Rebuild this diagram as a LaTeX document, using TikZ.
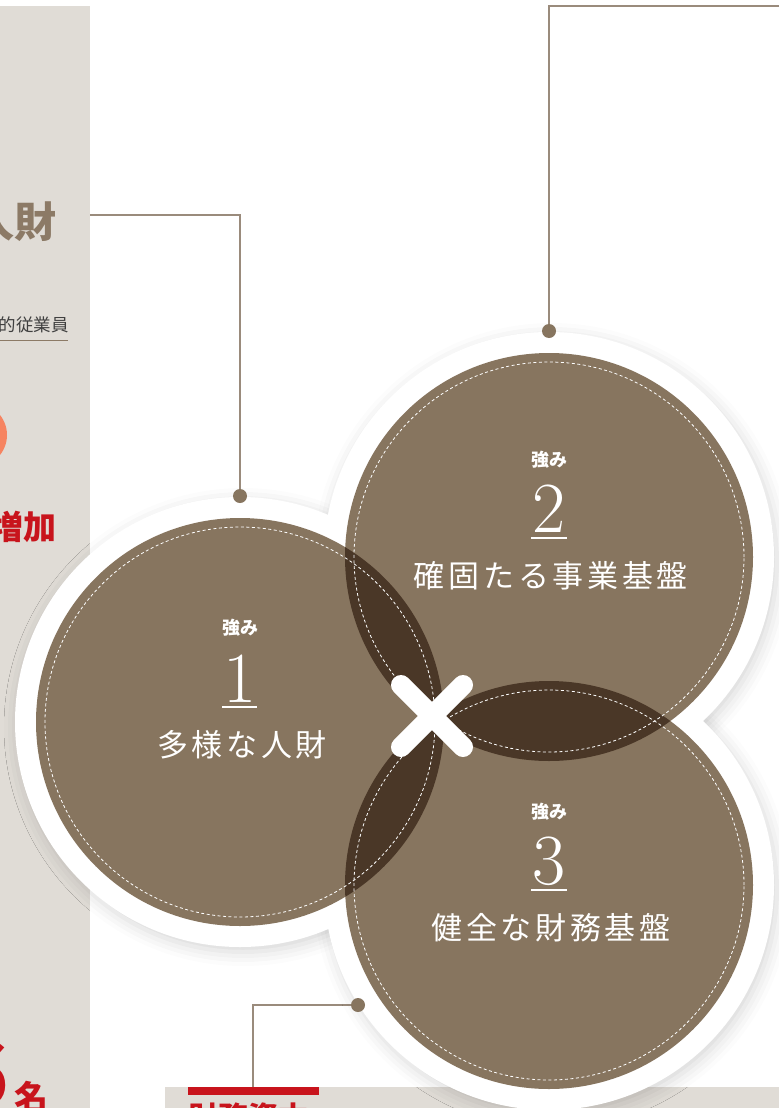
\documentclass[tikz,border=0pt]{standalone}
\usepackage{fontspec}
\usetikzlibrary{shadows.blur}
\newfontfamily\jp{Noto Sans CJK JP}
\newfontfamily\jpsp[LetterSpace=12]{Noto Sans CJK JP}
\definecolor{panelgray}{HTML}{E0DCD6}
\definecolor{brownc}{HTML}{87755F}
\definecolor{darkc}{HTML}{4A3727}
\definecolor{connc}{HTML}{9A8B7C}
\definecolor{redc}{HTML}{C8141C}
\definecolor{orangec}{HTML}{F68461}
\definecolor{headc}{HTML}{8C7A66}
\tikzset{
  conn/.style={connc, line width=1.3pt},
  dotc/.style={fill=brownc, draw=none},
  halo/.style={fill=white},
  disc/.style={fill=brownc},
  lens/.style={fill=darkc},
  ring/.style={white, line width=0.8pt, dash pattern=on 3pt off 2.5pt},
  tsmall/.style={text=white, font=\jp\bfseries\fontsize{18}{18}\selectfont, inner sep=0pt},
  tnum/.style={text=white, font=\fontsize{72}{72}\selectfont, inner sep=0pt},
  tname/.style={text=white, font=\jpsp\fontsize{31}{31}\selectfont, inner sep=0pt},
  shad/.style={blur shadow={shadow blur radius=14pt, shadow xshift=3pt, shadow yshift=-5pt, shadow opacity=16}}
}
\begin{document}
\begin{tikzpicture}[x=1pt,y=-1pt]
\useasboundingbox (0,0) rectangle (779,1108);
\begin{scope}
\clip (0,0) rectangle (779,1108);
% left panel
\fill[panelgray] (0,6) rectangle (90,1108);
\node[anchor=east, text=headc, font=\jp\bfseries\fontsize{42}{42}\selectfont, inner sep=0pt] (hd) at (57,222) {人財};
\node[anchor=east, text=black!75, font=\jp\fontsize{17.5}{17.5}\selectfont, inner sep=0pt] (emp) at (69,325) {的従業員};
\draw[headc, line width=1pt] (0,340) -- (68,340);
\fill[orangec] (-25,435) circle[radius=32pt];
\node[anchor=east, text=redc, font=\jp\bfseries\fontsize{33}{33}\selectfont, inner sep=0pt] (inc) at (57,527) {増加};
\node[anchor=north east, text=redc, font=\jp\bfseries\fontsize{90}{90}\selectfont, inner sep=0pt] (six) at (10,1040) {6};
\node[anchor=north west, text=redc, font=\jp\bfseries\fontsize{34}{34}\selectfont, inner sep=0pt] (mei) at (14,1081) {名};
% bottom panel
\fill[panelgray] (165,1087) rectangle (779,1108);
\fill[redc] (188,1087) rectangle (319,1095);
\node[anchor=north west, text=redc, font=\jp\bfseries\fontsize{30}{30}\selectfont, inner sep=0pt] (cap) at (188,1103) {財務資本};
% coordinates
\coordinate (c1) at (240,722);
\coordinate (c2) at (549,557);
\coordinate (c3) at (549,885);
\coordinate (d1) at (240,496);
\coordinate (d2) at (549,331);
\coordinate (d3) at (358,1005);
\coordinate (p1) at (90,215);
\coordinate (p2) at (779,6);
\coordinate (p3) at (253,1087);
% connectors
\draw[conn] (p1) -| (d1);
\draw[conn] (p2) -| (d2);
\draw[conn] (d3) -| (p3);
% shadows and halos
\path[shad] (c1) circle[radius=225pt];
\path[shad] (c2) circle[radius=225pt];
\path[shad] (c3) circle[radius=225pt];
\fill[halo] (c1) circle[radius=225pt];
\fill[halo] (c2) circle[radius=225pt];
\fill[halo] (c3) circle[radius=225pt];
% dots
\fill[dotc] (d1) circle[radius=7pt];
\fill[dotc] (d2) circle[radius=7pt];
\fill[dotc] (d3) circle[radius=7pt];
% discs
\fill[disc] (c1) circle[radius=204pt];
\fill[disc] (c2) circle[radius=204pt];
\fill[disc] (c3) circle[radius=204pt];
\begin{scope}\clip (c1) circle[radius=204pt]; \fill[lens] (c2) circle[radius=204pt]; \end{scope}
\begin{scope}\clip (c2) circle[radius=204pt]; \fill[lens] (c3) circle[radius=204pt]; \end{scope}
\begin{scope}\clip (c1) circle[radius=204pt]; \fill[lens] (c3) circle[radius=204pt]; \end{scope}
\draw[ring] (c1) circle[radius=195pt];
\draw[ring] (c2) circle[radius=195pt];
\draw[ring] (c3) circle[radius=195pt];
% cross
\draw[white, line width=20pt, line cap=round] (401,685) -- (463,747);
\draw[white, line width=20pt, line cap=round] (401,747) -- (463,685);
% texts circle 1
\node[tsmall] (s1) at (240,628) {強み};
\node[tnum, anchor=base] (n1) at (240,702) {1};
\draw[white, line width=1.2pt] (222,707) -- (257,707);
\node[tname] (t1) at (242,745) {多様な人財};
% circle 2
\node[tsmall] (s2) at (549,460) {強み};
\node[tnum, anchor=base] (n2) at (549,532) {2};
\draw[white, line width=1.2pt] (531,538) -- (567,538);
\node[tname] (t2) at (551,576) {確固たる事業基盤};
% circle 3
\node[tsmall] (s3) at (549,812) {強み};
\node[tnum, anchor=base] (n3) at (549,884) {3};
\draw[white, line width=1.2pt] (531,890) -- (567,890);
\node[tname] (t3) at (551,928) {健全な財務基盤};
\end{scope}
\end{tikzpicture}
\end{document}
